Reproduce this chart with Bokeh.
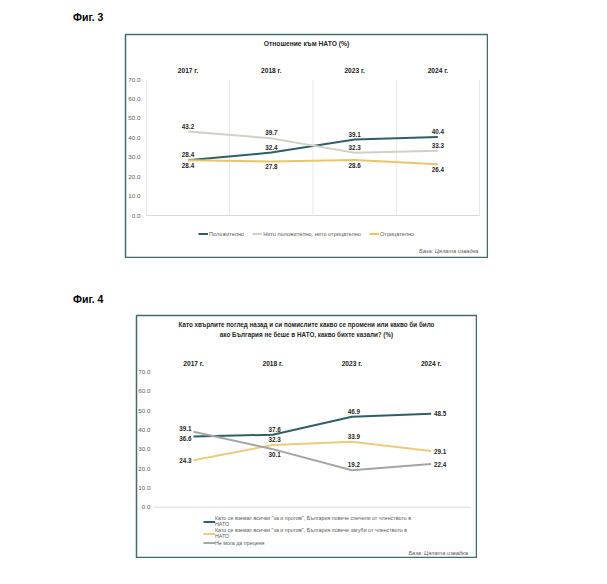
from bokeh.plotting import figure
from bokeh.models import Range1d, Legend, LegendItem, Label, Div, Spacer
from bokeh.layouts import column, row
from bokeh.core.properties import value
from bokeh.embed import file_html
from bokeh.resources import INLINE

FONT = "Liberation Sans"

# ---------------- data ----------------
years = ["2017 г.", "2018 г.", "2023 г.", "2024 г."]
y_ticks = [0, 10, 20, 30, 40, 50, 60, 70]
source_note = "База: Цялата извадка"

fig3_caption = "Фиг. 3"
f3_title = "Отношение към НАТО (%)"
f3_names = ["Положително", "Нито положително, нито отрицателно", "Отрицателно"]
f3_positive = [28.4, 32.4, 39.1, 40.4]
f3_neutral = [43.2, 39.7, 32.3, 33.3]
f3_negative = [28.4, 27.8, 28.6, 26.4]

fig4_caption = "Фиг. 4"
f4_title = ("Като хвърлите поглед назад и си помислите какво се промени или какво би било\n"
            "ако България не беше в НАТО, какво бихте казали? (%)")
f4_names = ["Като се вземат всички \"за и против\", България повече спечели от членството в\nНАТО",
            "Като се вземат всички \"за и против\", България повече загуби от членството в\nНАТО",
            "Не мога да преценя"]
f4_gained = [36.6, 37.6, 46.9, 48.5]
f4_lost = [24.3, 32.3, 33.9, 29.1]
f4_unsure = [39.1, 30.1, 19.2, 22.4]

# ---------------- styles ----------------
BORDER = "#3F6E69"
TEAL = "#2F5F66"
LABEL_COL = "#262626"
AXIS_TXT = "#595959"

PLACE = {
    "above": (0, -3, "center", "bottom"),
    "below": (0, 3, "center", "top"),
    "left": (-2, 0, "right", "middle"),
    "left_hi": (-2, -3, "right", "middle"),
    "left_lo": (-2, 2, "right", "middle"),
    "right": (3, 0, "left", "middle"),
    "above_r": (2, -3, "center", "bottom"),
    "below_r": (2, 3, "center", "top"),
}


def make_chart(W, H, cx0, step, y0, ppu, tick_gap, year_gap, gridlines):
    fw, fh = W - 2, H - 2
    xs = -cx0 / step
    ys = -y0 / ppu
    p = figure(width=W, height=H, title=None,
               x_range=Range1d(xs, xs + fw / step),
               y_range=Range1d(ys, ys + fh / ppu),
               x_axis_type=None, y_axis_type=None, min_border=1,
               toolbar_location=None, output_backend="svg",
               outline_line_color=BORDER, outline_line_width=1.5,
               background_fill_color="white", border_fill_color="white")
    idx = list(range(len(years)))
    bounds = [i - 0.5 for i in range(len(years) + 1)]
    if gridlines:
        p.segment(x0=bounds, y0=[y_ticks[0]] * len(bounds), x1=bounds,
                  y1=[y_ticks[-1]] * len(bounds), line_color="#E8E8E8", line_width=1)
    p.segment(x0=[bounds[0]], y0=[y_ticks[0]], x1=[bounds[-1]], y1=[y_ticks[0]],
              line_color="#D9D9D9", line_width=1)
    p.text(x=[bounds[0]] * len(y_ticks), y=y_ticks, text=[f"{t:.1f}" for t in y_ticks],
           x_offset=tick_gap, text_align="right", text_baseline="middle",
           text_font=value(FONT), text_font_size="6.2px", text_color=AXIS_TXT)
    p.text(x=idx, y=[y_ticks[-1]] * len(idx), text=years, y_offset=year_gap,
           text_align="center", text_baseline="middle", text_font=value(FONT),
           text_font_style="bold", text_font_size="6.6px", text_color="#1A1A1A")
    return p, idx, fw, fh


def add_series(p, idx, vals, color, places):
    r = p.line(idx, vals, line_color=color, line_width=2)
    for i, (v, pl) in enumerate(zip(vals, places)):
        dx, dy, al, bl = PLACE[pl]
        p.text(x=[idx[i]], y=[v], text=[f"{v:.1f}"], x_offset=dx, y_offset=dy,
               text_align=al, text_baseline=bl, text_font=value(FONT),
               text_font_style="bold", text_font_size="6.3px", text_color=LABEL_COL)
    return r


# ---------------- figure 3 ----------------
p3, idx3, fw3, fh3 = make_chart(364, 225, 62.5, 83.3, 42, 136 / 70, -6, -9, True)
r31 = add_series(p3, idx3, f3_positive, TEAL, ["above"] * 4)
r32 = add_series(p3, idx3, f3_neutral, "#D0D0C8", ["above"] * 4)
r33 = add_series(p3, idx3, f3_negative, "#EAC46C", ["below"] * 4)
p3.add_layout(Label(x=fw3 / 2, y=213.7, x_units="screen", y_units="screen", text=f3_title,
                    text_align="center", text_baseline="middle", text_font=FONT,
                    text_font_style="bold", text_font_size="6.7px", text_color=LABEL_COL))
p3.add_layout(Label(x=353, y=6.3, x_units="screen", y_units="screen", text=source_note,
                    text_align="right", text_baseline="middle", text_font=FONT,
                    text_font_style="italic", text_font_size="5.7px", text_color=AXIS_TXT))
leg3 = Legend(items=[LegendItem(label=n, renderers=[r]) for n, r in zip(f3_names, [r31, r32, r33])],
              location=(73, 20), orientation="horizontal", padding=0, margin=0, spacing=8,
              label_standoff=1, glyph_width=10, glyph_height=7, label_height=7, label_width=10,
              label_text_font=FONT, label_text_font_size="5.6px", label_text_color=AXIS_TXT,
              border_line_color=None, background_fill_alpha=0)
p3.add_layout(leg3)

# ---------------- figure 4 ----------------
p4, idx4, fw4, fh4 = make_chart(342, 244, 57, 79.2, 50.3, 135 / 70, -3.5, -8.5, False)
r41 = add_series(p4, idx4, f4_gained, TEAL, ["left_lo", "above_r", "above_r", "right"])
r42 = add_series(p4, idx4, f4_lost, "#EBCB7E", ["left", "above_r", "above_r", "right"])
r43 = add_series(p4, idx4, f4_unsure, "#A5A5A5", ["left_hi", "below_r", "above_r", "right"])
p4.add_layout(Label(x=fw4 / 2, y=228.2, x_units="screen", y_units="screen", text=f4_title,
                    text_align="center", text_baseline="middle", text_font=FONT,
                    text_font_style="bold", text_font_size="6.3px", text_color=LABEL_COL,
                    text_line_height=1.42))
p4.add_layout(Label(x=331.3, y=4.7, x_units="screen", y_units="screen", text=source_note,
                    text_align="right", text_baseline="middle", text_font=FONT,
                    text_font_style="italic", text_font_size="5.7px", text_color=AXIS_TXT))
leg4 = Legend(items=[LegendItem(label=n, renderers=[r]) for n, r in zip(f4_names, [r41, r42, r43])],
              location=(67, 11), orientation="vertical", padding=0, margin=0, spacing=0,
              label_standoff=0, glyph_width=12, glyph_height=7, label_height=7, label_width=10,
              label_text_font=FONT, label_text_font_size="5.35px", label_text_color=AXIS_TXT,
              label_text_line_height=1.3,
              border_line_color=None, background_fill_alpha=0)
p4.add_layout(leg4)

# ---------------- page ----------------
cap_style = {"font-family": FONT, "font-weight": "bold", "font-size": "10.5px",
             "color": "#000000"}
div3 = Div(text=fig3_caption, width=60, height=12, margin=0, styles=cap_style)
div4 = Div(text=fig4_caption, width=60, height=12, margin=0, styles=cap_style)

layout = column(
    Spacer(width=10, height=10),
    row(Spacer(width=73, height=12), div3),
    Spacer(width=10, height=11),
    row(Spacer(width=124, height=225), p3),
    Spacer(width=10, height=34),
    row(Spacer(width=73, height=12), div4),
    Spacer(width=10, height=10),
    row(Spacer(width=135, height=244), p4),
)

open("out.html", "w").write(file_html(layout, INLINE))
